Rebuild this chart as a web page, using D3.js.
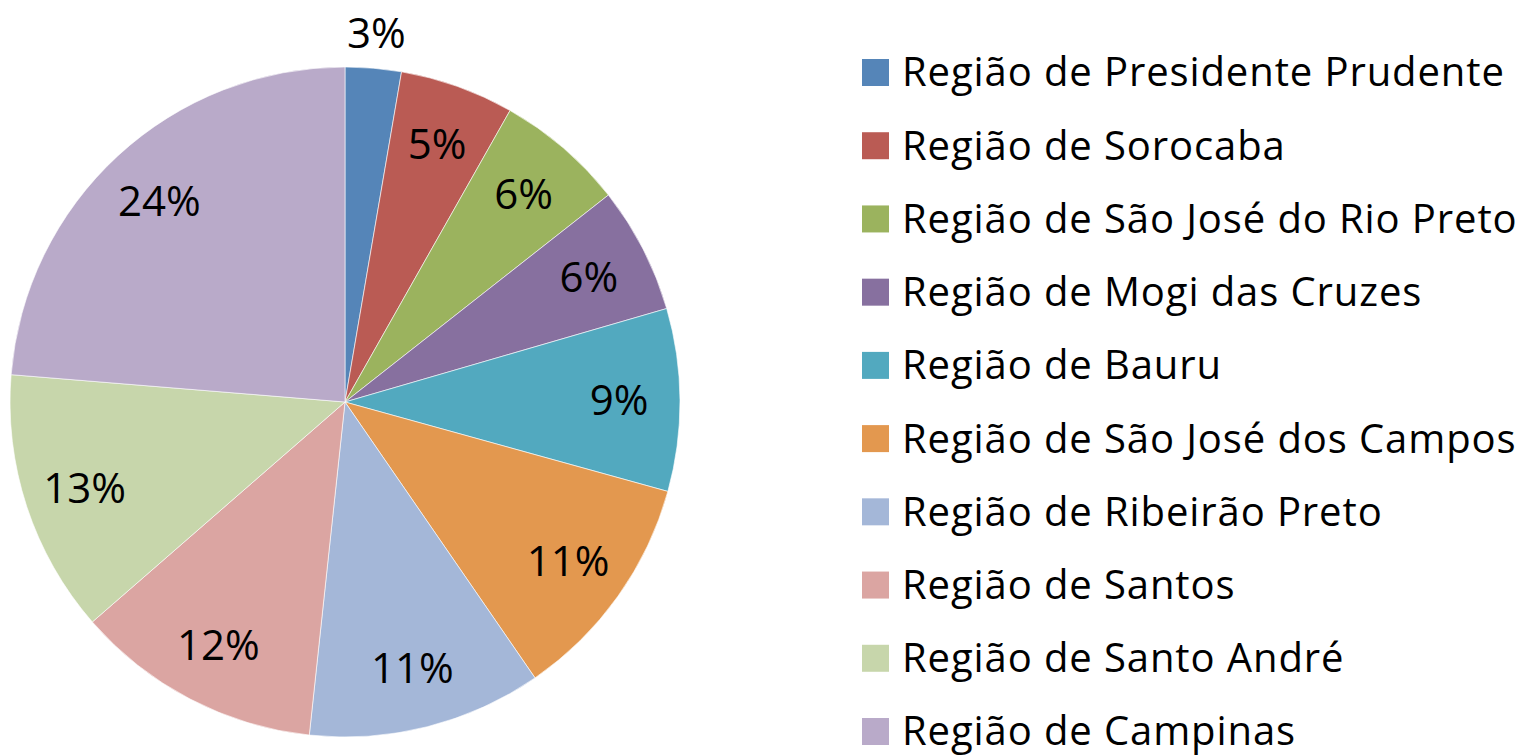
<!DOCTYPE html>
<html>
<head>
<meta charset="utf-8">
<script src="https://cdn.jsdelivr.net/npm/d3@7"></script>
<style>
  body { margin: 0; background: #fff; }
  text { font-family: "Open Sans", "DejaVu Sans", sans-serif; fill: #000; }
</style>
</head>
<body>
<svg id="chart" width="1525" height="756"></svg>
<script>
// share of each region
const regions = [
  'Região de Presidente Prudente',
  'Região de Sorocaba',
  'Região de São José do Rio Preto',
  'Região de Mogi das Cruzes',
  'Região de Bauru',
  'Região de São José dos Campos',
  'Região de Ribeirão Preto',
  'Região de Santos',
  'Região de Santo André',
  'Região de Campinas',
];
const shares = [2.7, 5.5, 6.2, 6.1, 8.8, 11.1, 11.3, 11.9, 12.7, 23.7];
const labels = ['3%', '5%', '6%', '6%', '9%', '11%', '11%', '12%', '13%', '24%'];
const colors = ['#5585b8', '#ba5b54', '#9bb35e', '#87709f', '#52a9bf',
  '#e3984f', '#a4b7d8', '#dba5a2', '#c7d6ab', '#b9aac9'];

const svg = d3.select('#chart');
const cx = 345;
const cy = 402;
const radius = 335;

const data = regions.map((name, i) => ({
  name, value: shares[i], label: labels[i], color: colors[i],
}));

const pie = d3.pie().sort(null).value((d) => d.value);
const arc = d3.arc().innerRadius(0).outerRadius(radius);
// inside labels sit at ~82% of the radius, tiny slices go outside
const labelArc = d3.arc().innerRadius(274).outerRadius(274);
const outerLabelArc = d3.arc().innerRadius(370).outerRadius(370);

const g = svg.append('g').attr('transform', `translate(${cx},${cy})`);
const arcs = pie(data);

g.selectAll('path')
  .data(arcs)
  .join('path')
  .attr('d', arc)
  .attr('fill', (d) => d.data.color)
  .attr('stroke', '#fff')
  .attr('stroke-width', 0.6);

g.selectAll('text.pct')
  .data(arcs)
  .join('text')
  .attr('class', 'pct')
  .attr('transform', (d) => {
    const a = d.data.value < 4 ? outerLabelArc : labelArc;
    return `translate(${a.centroid(d)})`;
  })
  .attr('text-anchor', 'middle')
  .attr('dy', '0.36em')
  .style('font-size', '42px')
  .text((d) => d.data.label);

// legend
const legend = svg.append('g').attr('transform', 'translate(862,0)');
const rowY = d3.scaleLinear().domain([0, regions.length - 1]).range([72, 731]);

const rows = legend.selectAll('g')
  .data(data)
  .join('g')
  .attr('transform', (d, i) => `translate(0,${rowY(i)})`);

rows.append('rect')
  .attr('x', 0)
  .attr('y', -13)
  .attr('width', 27)
  .attr('height', 27)
  .attr('fill', (d) => d.color);

rows.append('text')
  .attr('x', 40)
  .attr('dy', '0.36em')
  .style('font-size', '40px')
  .style('letter-spacing', '0.9px')
  .text((d) => d.name);
</script>
</body>
</html>
